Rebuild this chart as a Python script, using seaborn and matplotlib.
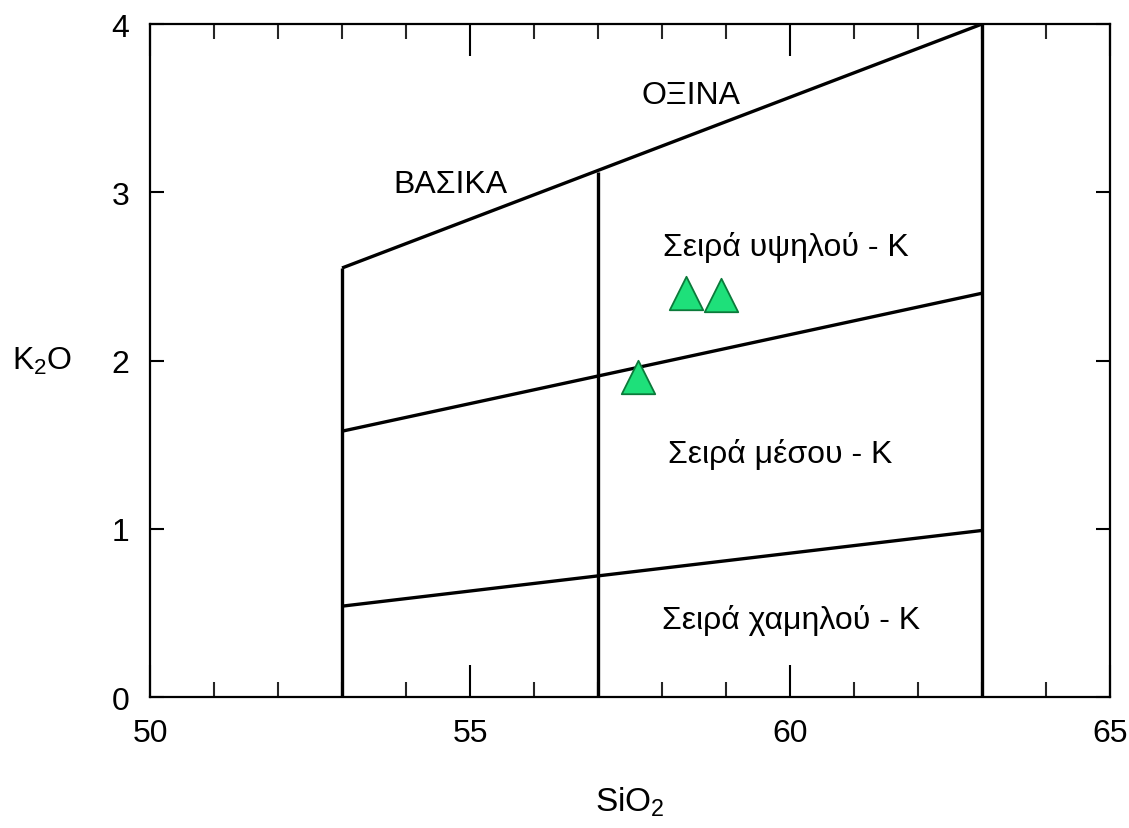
import numpy as np
import pandas as pd
import seaborn as sns
import matplotlib.pyplot as plt
from matplotlib.ticker import MultipleLocator

sns.set_theme(style="white")
plt.rcParams['font.family'] = ['Liberation Sans', 'DejaVu Sans']
plt.rcParams['mathtext.default'] = 'regular'

# Field boundaries (SiO2, K2O)
top_line_x = [53, 63]
top_line_y = [2.55, 4.0]
mid_line_x = [53, 63]
mid_line_y = [1.58, 2.40]
low_line_x = [53, 63]
low_line_y = [0.54, 0.99]
vert_x = [53, 57, 63]
vert_top = [2.55, 3.12, 4.0]

# Samples
sio2 = [58.37, 58.92, 57.62]
k2o = [2.40, 2.39, 1.90]

# Field labels
label_text = ["ΟΞΙΝΑ", "ΒΑΣΙΚΑ", "Σειρά υψηλού - K", "Σειρά μέσου - K", "Σειρά χαμηλού - K"]
label_x = [58.45, 54.7, 59.93, 59.85, 60.02]
label_y = [3.58, 3.05, 2.68, 1.45, 0.46]

x_ticks = [50, 55, 60, 65]
y_ticks = [0, 1, 2, 3, 4]

fig = plt.figure(figsize=(11.29, 8.29), dpi=100)
ax = fig.add_axes([0.1329, 0.158, 0.8503, 0.8118])

line_kw = dict(color="black", linewidth=2.4, solid_capstyle="butt")
ax.plot(top_line_x, top_line_y, **line_kw)
ax.plot(mid_line_x, mid_line_y, **line_kw)
ax.plot(low_line_x, low_line_y, **line_kw)
for vx, vt in zip(vert_x, vert_top):
    ax.plot([vx, vx], [0, vt], **line_kw)

df = pd.DataFrame({"SiO2": sio2, "K2O": k2o})
sns.scatterplot(data=df, x="SiO2", y="K2O", marker="^", s=580,
                color="#1EE07A", edgecolor="#0B7A3A", linewidth=1.3, ax=ax, zorder=5)

for t, x, y in zip(label_text, label_x, label_y):
    ax.text(x, y, t, fontsize=23, ha="center", va="center", color="black")

ax.set_xlim(50, 65)
ax.set_ylim(0, 4)
ax.set_xticks(x_ticks)
ax.set_yticks(y_ticks)
ax.xaxis.set_minor_locator(MultipleLocator(1))

for side in ax.spines.values():
    side.set_linewidth(1.6)
    side.set_color("black")

ax.tick_params(axis="x", which="major", direction="in", length=23, width=1.5,
               top=True, bottom=True, labelsize=23, pad=15, colors="black")
ax.tick_params(axis="x", which="minor", direction="in", length=10.5, width=1.5,
               top=True, bottom=True)
ax.tick_params(axis="y", which="major", direction="in", length=10, width=1.5,
               left=True, right=True, labelsize=23, pad=15, colors="black")

ax.set_xlabel("SiO$_2$", fontsize=24, color="black")
ax.set_ylabel("K$_2$O", fontsize=23, rotation=0, va="center", ha="center", color="black")
ax.xaxis.set_label_coords(0.5, -0.13)
ax.yaxis.set_label_coords(-0.112, 0.5)

plt.savefig("out.png", dpi=100)
plt.close()
